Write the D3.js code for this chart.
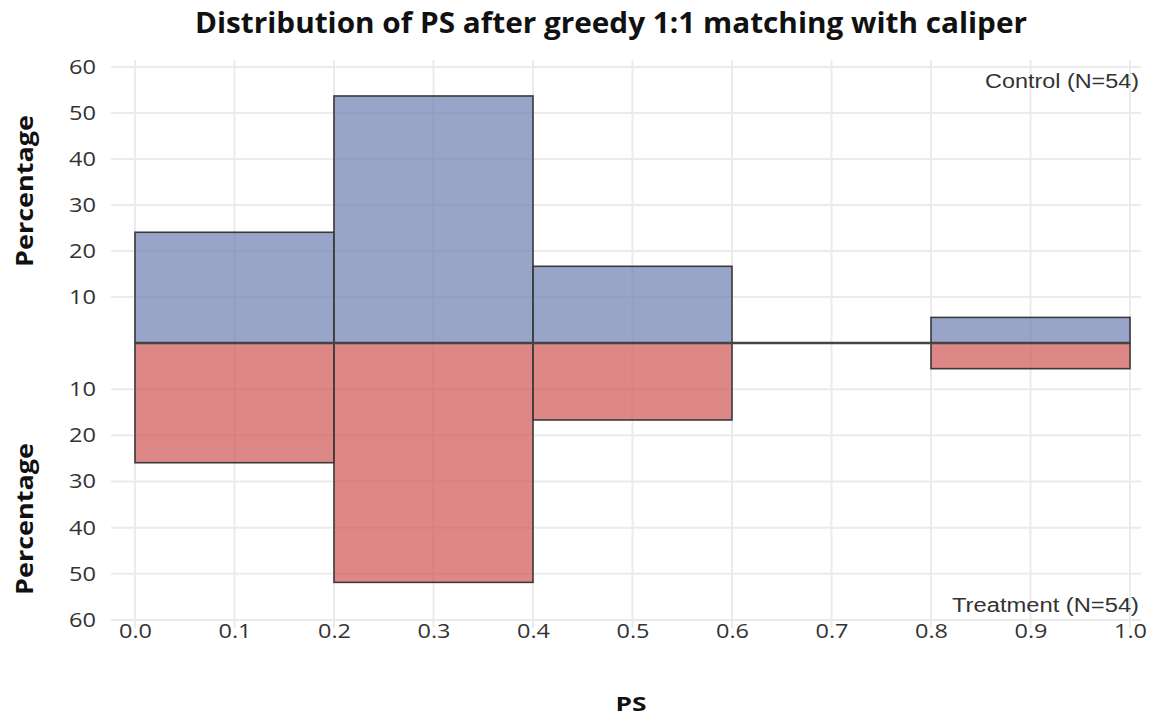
<!DOCTYPE html>
<html>
<head>
<meta charset="utf-8">
<script src="https://cdn.jsdelivr.net/npm/d3@7"></script>
<style>
  html, body { margin: 0; padding: 0; background: #fff; }
  svg { display: block; }
</style>
</head>
<body>
<svg id="chart" width="1153" height="723"></svg>
<script>
// Propensity-score bins (left edges / right edges)
const binStart = [0.0, 0.2, 0.4, 0.6, 0.8];
const binEnd   = [0.2, 0.4, 0.6, 0.8, 1.0];
// Percentage of each group falling in each bin (N = 54 per group)
const controlPct   = [24.07, 53.70, 16.67, 0, 5.56];
const treatmentPct = [25.93, 51.85, 16.67, 0, 5.56];
const xTicks = [0.0, 0.1, 0.2, 0.3, 0.4, 0.5, 0.6, 0.7, 0.8, 0.9, 1.0];
const yTicks = [10, 20, 30, 40, 50, 60];

const svg = d3.select("#chart");
const x = d3.scaleLinear().domain([0, 1]).range([135, 1130]);
const yTop = d3.scaleLinear().domain([0, 60]).range([343, 67]);
const yBot = d3.scaleLinear().domain([0, 60]).range([343, 620]);

const gridColor = "#ebebeb";
const tickFont = "'Open Sans', sans-serif";

// Grid
const grid = svg.append("g");
grid.selectAll("line.v").data(xTicks).join("line")
  .attr("x1", d => x(d)).attr("x2", d => x(d))
  .attr("y1", 60).attr("y2", 628)
  .attr("stroke", gridColor).attr("stroke-width", 2);
grid.selectAll("line.ht").data(yTicks).join("line")
  .attr("x1", 111).attr("x2", 1141)
  .attr("y1", d => yTop(d)).attr("y2", d => yTop(d))
  .attr("stroke", gridColor).attr("stroke-width", 2);
grid.selectAll("line.hb").data(yTicks).join("line")
  .attr("x1", 111).attr("x2", 1141)
  .attr("y1", d => yBot(d)).attr("y2", d => yBot(d))
  .attr("stroke", gridColor).attr("stroke-width", 2);

// Bars
const bins = binStart.map((s, i) => ({ s, e: binEnd[i], c: controlPct[i], t: treatmentPct[i] }))
  .filter(d => d.c > 0 || d.t > 0);

svg.append("g").selectAll("rect").data(bins).join("rect")
  .attr("x", d => x(d.s)).attr("width", d => x(d.e) - x(d.s))
  .attr("y", d => yTop(d.c)).attr("height", d => yTop(0) - yTop(d.c))
  .attr("fill", "#6c7eb0").attr("fill-opacity", 0.7)
  .attr("stroke", "#3a3a3a").attr("stroke-width", 1.6);

svg.append("g").selectAll("rect").data(bins).join("rect")
  .attr("x", d => x(d.s)).attr("width", d => x(d.e) - x(d.s))
  .attr("y", yBot(0)).attr("height", d => yBot(d.t) - yBot(0))
  .attr("fill", "#ce5454").attr("fill-opacity", 0.7)
  .attr("stroke", "#3a3a3a").attr("stroke-width", 1.6);

// Zero line
svg.append("line")
  .attr("x1", x(0)).attr("x2", x(1))
  .attr("y1", yTop(0)).attr("y2", yTop(0))
  .attr("stroke", "#444").attr("stroke-width", 2.6);

// Axes (text only)
const xAxis = d3.axisBottom(x).tickValues(xTicks).tickFormat(d3.format(".1f")).tickSize(0).tickPadding(0);
const gx = svg.append("g").attr("transform", "translate(0,638)").call(xAxis);
gx.select(".domain").remove();
gx.selectAll("text").attr("font-family", tickFont).attr("font-size", 20).attr("fill", "#333")
  .attr("dy", 0).attr("textLength", 33).attr("lengthAdjust", "spacingAndGlyphs");

const yAxisTop = d3.axisLeft(yTop).tickValues(yTicks).tickSize(0).tickPadding(0);
const gyt = svg.append("g").attr("transform", "translate(96,0)").call(yAxisTop);
const yAxisBot = d3.axisLeft(yBot).tickValues(yTicks).tickSize(0).tickPadding(0);
const gyb = svg.append("g").attr("transform", "translate(96,0)").call(yAxisBot);
[gyt, gyb].forEach(g => {
  g.select(".domain").remove();
  g.selectAll("text").attr("font-family", tickFont).attr("font-size", 20).attr("fill", "#333")
    .attr("textLength", 27).attr("lengthAdjust", "spacingAndGlyphs");
});

// Titles and labels
svg.append("text").attr("x", 611).attr("y", 33).attr("text-anchor", "middle")
  .attr("font-family", tickFont).attr("font-weight", "bold").attr("font-size", 28).attr("fill", "#111")
  .attr("textLength", 832).attr("lengthAdjust", "spacingAndGlyphs")
  .text("Distribution of PS after greedy 1:1 matching with caliper");

svg.append("text").attr("x", 631).attr("y", 711).attr("text-anchor", "middle")
  .attr("font-family", tickFont).attr("font-weight", "bold").attr("font-size", 20).attr("fill", "#111")
  .attr("textLength", 31).attr("lengthAdjust", "spacingAndGlyphs")
  .text("PS");

[191, 519].forEach(cy => {
  svg.append("text").attr("transform", `translate(33,${cy}) rotate(-90)`).attr("text-anchor", "middle")
    .attr("font-family", tickFont).attr("font-weight", "bold").attr("font-size", 24).attr("fill", "#111")
    .attr("textLength", 152).attr("lengthAdjust", "spacingAndGlyphs")
    .text("Percentage");
});

svg.append("text").attr("x", 1139).attr("y", 88).attr("text-anchor", "end")
  .attr("font-family", "'Liberation Sans', Arial, sans-serif").attr("font-size", 20).attr("fill", "#333")
  .attr("textLength", 154).attr("lengthAdjust", "spacingAndGlyphs")
  .text("Control (N=54)");
svg.append("text").attr("x", 1139).attr("y", 612).attr("text-anchor", "end")
  .attr("font-family", "'Liberation Sans', Arial, sans-serif").attr("font-size", 20).attr("fill", "#333")
  .attr("textLength", 187).attr("lengthAdjust", "spacingAndGlyphs")
  .text("Treatment (N=54)");
</script>
</body>
</html>
